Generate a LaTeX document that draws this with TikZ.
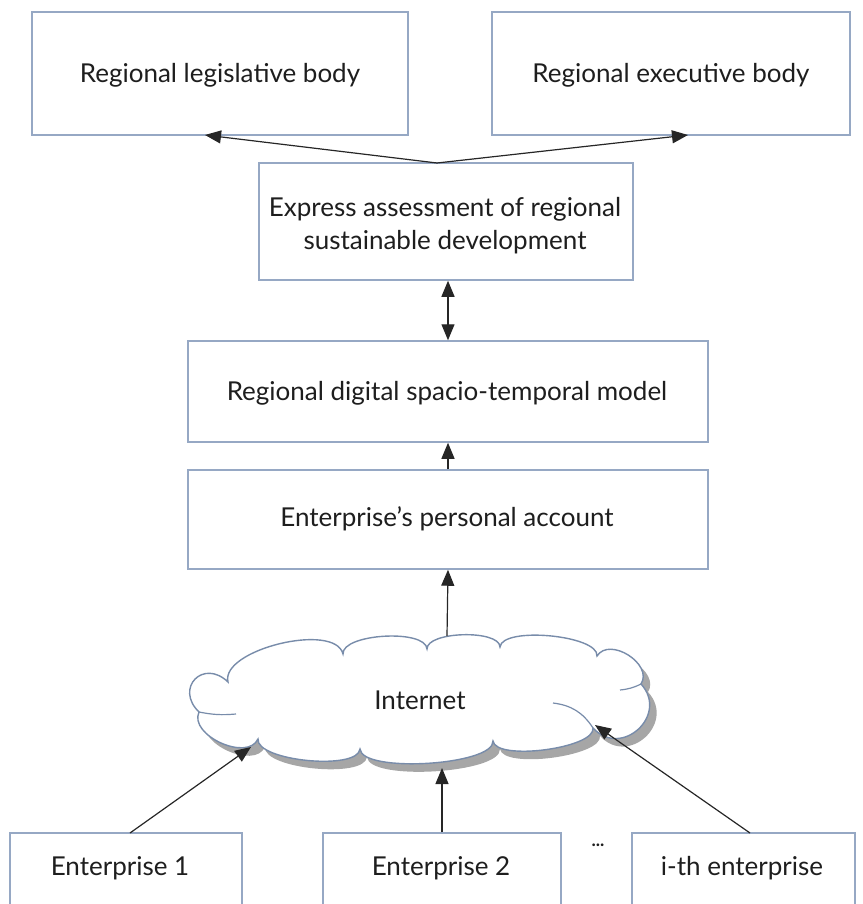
\documentclass[tikz,border=0pt]{standalone}
\usepackage{fontspec}
\setmainfont{Lato}
\usetikzlibrary{arrows.meta}
\definecolor{boxline}{RGB}{150,168,196}
\definecolor{cloudline}{RGB}{120,140,170}
\definecolor{txt}{RGB}{30,30,30}
\def\cloudpath{(228,682) to[bend left=90,looseness=0.72] (343,654)
  to[bend left=90,looseness=0.62] (427,649)
  to[bend left=90,looseness=0.62] (500,647)
  to[bend left=90,looseness=0.55] (597,656)
  to[bend left=90,looseness=1.15] (641,684)
  to[bend left=90,looseness=1.65] (593,728)
  to[bend left=90,looseness=0.52] (493,741)
  to[bend left=90,looseness=0.47] (360,749)
  to[bend left=90,looseness=0.55] (258,739)
  to[bend left=90,looseness=1.0] (199,712)
  to[bend left=90,looseness=2.1] cycle}
\begin{document}
\begin{tikzpicture}[x=1pt,y=-1pt,
  box/.style={draw=boxline, line width=1.5pt, fill=white, inner sep=0pt},
  lbl/.style={font=\fontsize{26}{33}\selectfont, text=txt, align=center},
  arr/.style={-{Triangle[length=16pt,width=13pt]}, line width=1.2pt, draw=black!85},
  darr/.style={{Triangle[length=16pt,width=13pt]}-{Triangle[length=16pt,width=13pt]}, line width=1.2pt, draw=black!85}]
\useasboundingbox (0,0) rectangle (862,904);
\clip (0,0) rectangle (862,904);
% boxes
\node[box, minimum width=376pt, minimum height=123pt] (leg) at (220,73.5) {};
\node[box, minimum width=358pt, minimum height=123pt] (exe) at (671,73.5) {};
\node[box, minimum width=374pt, minimum height=117pt] (exp) at (446,221.5) {};
\node[box, minimum width=520pt, minimum height=101pt] (dig) at (448,391.5) {};
\node[box, minimum width=520pt, minimum height=99pt] (acc) at (448,519.5) {};
\node[box, minimum width=232pt, minimum height=74pt] (e1) at (126,870) {};
\node[box, minimum width=238pt, minimum height=74pt] (e2) at (442,870) {};
\node[box, minimum width=223pt, minimum height=74pt] (ei) at (743.5,870) {};
% labels
\node[lbl] (legl) at (220,75) {Regional legislative body};
\node[lbl] (exel) at (671,75) {Regional executive body};
\node[lbl] (expl) at (445,226) {Express assessment of regional\\sustainable development};
\node[lbl] (digl) at (447,393) {Regional digital spacio-temporal model};
\node[lbl] (accl) at (447,519) {Enterprise’s personal account};
\node[lbl] (e1l) at (120,868) {Enterprise 1};
\node[lbl] (e2l) at (441,868) {Enterprise 2};
\node[lbl] (eil) at (742,868) {i-th enterprise};
\node[font=\fontsize{18}{20}\selectfont, text=txt] (dots) at (598,845) {\textbf{...}};
% cloud
\fill[gray!70, shift={(7,8)}] \cloudpath;
\draw[cloudline, line width=1.4pt, fill=white] \cloudpath;
\draw[cloudline, line width=1.2pt] (199,712) to[bend right=8] (236,714);
\draw[cloudline, line width=1.2pt] (641,684) to[bend left=10] (620,690);
\draw[cloudline, line width=1.2pt] (553,703) to[bend left=25] (593,728);
\node[lbl] (net) at (420,700) {Internet};
% connector ends
\coordinate (apex) at (437,163);
\coordinate (legtip) at (205,135);
\coordinate (exetip) at (688,135);
\coordinate (ctop) at (447,636);
\coordinate (t1) at (251,747);
\coordinate (t2) at (442,768);
\coordinate (ti) at (595,725);
\coordinate (s1) at (130,833);
\coordinate (si) at (750,833);
% connectors
\draw[arr] (apex) -- (legtip);
\draw[arr] (apex) -- (exetip);
\draw[darr] (dig.north |- exp.south) -- (dig.north);
\draw[arr] (acc.north) -- (dig.south);
\draw[arr] (ctop) -- (acc.south);
\draw[arr] (s1) -- (t1);
\draw[arr] (e2.north) -- (t2);
\draw[arr] (si) -- (ti);
\end{tikzpicture}
\end{document}
